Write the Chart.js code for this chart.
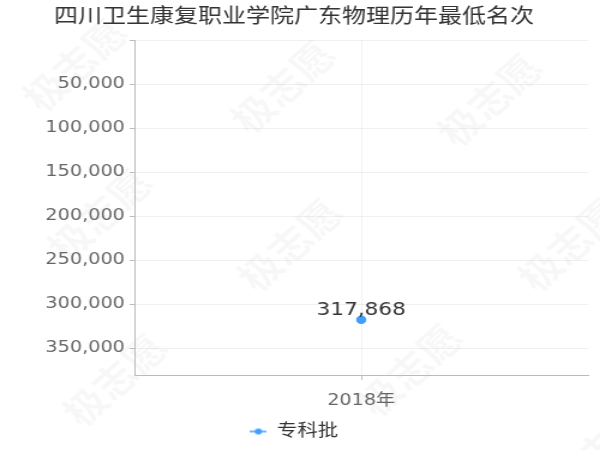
<!DOCTYPE html>
<html>
<head>
<meta charset="utf-8">
<script src="https://cdn.jsdelivr.net/npm/chart.js@4/dist/chart.umd.min.js"></script>
<style>
  html, body { margin: 0; padding: 0; background: #fff; }
  #c { display: block; }
</style>
</head>
<body>
<!-- drawn at 500 wide, shown at 600 wide: the reference is stretched sideways -->
<canvas id="c" width="500" height="450" style="width:600px;height:450px"></canvas>
<script>
// --- data ---
const years = ['2018年'];
const ranks = [317868];
const seriesName = '专科批';
const chartTitle = '四川卫生康复职业学院广东物理历年最低名次';
const rankTicks = [0, 50000, 100000, 150000, 200000, 250000, 300000, 350000];

const FONT = "'DejaVu Sans', 'Noto Sans CJK SC', sans-serif";
const BLUE = '#409EFF';
const fmt = v => v.toLocaleString('en-US');

// legend icon: short line with a dot
const legendIcon = document.createElement('canvas');
legendIcon.width = 14;
legendIcon.height = 8;
(() => {
  const g = legendIcon.getContext('2d');
  g.strokeStyle = BLUE;
  g.lineWidth = 1.5;
  g.beginPath(); g.moveTo(0, 4); g.lineTo(14, 4); g.stroke();
  g.fillStyle = BLUE;
  g.beginPath(); g.arc(7, 4, 3, 0, Math.PI * 2); g.fill();
})();

// faint diagonal watermark, centres in shown pixels
const marks = [[75, 65], [283, 87], [490, 100], [100, 215], [290, 245], [570, 245], [115, 380], [410, 370], [600, 450]];
const watermark = {
  id: 'watermark',
  beforeDraw(chart) {
    const ctx = chart.ctx;
    ctx.save();
    ctx.fillStyle = 'rgba(0,0,0,0.03)';
    ctx.font = "bold 36px 'Noto Sans CJK SC'";
    ctx.textAlign = 'center';
    ctx.textBaseline = 'middle';
    marks.forEach(([x, y]) => {
      ctx.save();
      ctx.translate(x / 1.2, y);
      ctx.rotate(-47 * Math.PI / 180);
      ctx.fillText('极志愿', 0, 0);
      ctx.restore();
    });
    ctx.restore();
  }
};

// value text over each point
const pointLabels = {
  id: 'pointLabels',
  afterDatasetsDraw(chart) {
    const ctx = chart.ctx;
    ctx.save();
    ctx.font = '18px ' + FONT;
    ctx.fillStyle = '#333';
    ctx.textAlign = 'center';
    ctx.textBaseline = 'alphabetic';
    chart.getDatasetMeta(0).data.forEach((p, i) => {
      ctx.fillText(fmt(ranks[i]), p.x, p.y - 5);
    });
    ctx.restore();
  }
};

new Chart(document.getElementById('c'), {
  type: 'line',
  data: {
    labels: years,
    datasets: [{
      label: seriesName,
      data: ranks,
      borderColor: BLUE,
      backgroundColor: BLUE,
      pointRadius: 3.5,
      pointHoverRadius: 3.5,
      borderWidth: 1.5
    }]
  },
  options: {
    responsive: false,
    animation: false,
    devicePixelRatio: 1,
    layout: { padding: { left: 0, right: 10, top: 0, bottom: 0 } },
    plugins: {
      title: {
        display: true,
        text: chartTitle,
        color: '#333',
        font: { family: FONT, size: 20, weight: 'normal' },
        padding: { top: 6, bottom: 10 }
      },
      legend: {
        position: 'bottom',
        labels: {
          usePointStyle: true,
          pointStyle: legendIcon,
          pointStyleWidth: 14,
          color: '#333',
          padding: 2,
          font: { family: FONT, size: 17 }
        }
      },
      tooltip: { enabled: false }
    },
    scales: {
      x: {
        offset: true,
        grid: { offset: false, color: 'rgba(0,0,0,0.06)', tickColor: '#bbb', tickLength: 4 },
        border: { color: '#bbb' },
        ticks: { color: '#666', padding: 11, font: { family: FONT, size: 16 } }
      },
      y: {
        reverse: true,
        min: 0,
        max: Math.max(...ranks) * 1.2,
        afterBuildTicks: s => { s.ticks = rankTicks.map(v => ({ value: v })); },
        afterFit: s => { s.width = 112; },
        grid: { color: 'rgba(0,0,0,0.06)', tickColor: '#bbb', tickLength: 4 },
        border: { color: '#bbb' },
        ticks: {
          color: '#666',
          padding: 4,
          font: { family: FONT, size: 16 },
          callback: v => (v === 0 ? '' : fmt(v))
        }
      }
    }
  },
  plugins: [watermark, pointLabels]
});
</script>
</body>
</html>
